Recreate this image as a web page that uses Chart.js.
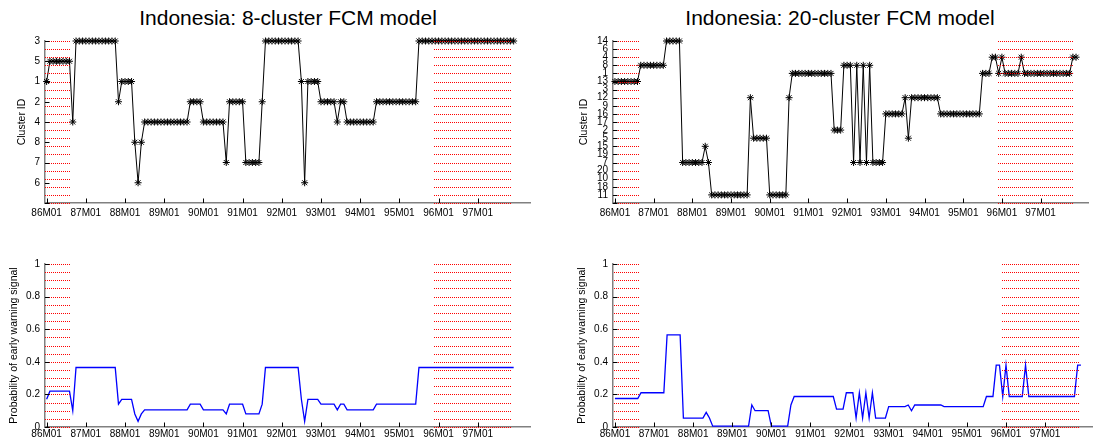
<!DOCTYPE html>
<html>
<head>
<meta charset="utf-8">
<script src="https://cdn.jsdelivr.net/npm/chart.js@4.4.1/dist/chart.umd.min.js"></script>
<style>
  body { margin: 0; background: #fff; width: 1093px; height: 443px; overflow: hidden; position: relative; font-family: Arial, "Liberation Sans", sans-serif; }
  canvas { position: absolute; }
  .ttl { position: absolute; top: 7px; font-size: 21px; line-height: 21px; white-space: nowrap; transform: translateX(-50%); color: #000; }
</style>
</head>
<body>
<div class="ttl" style="left:288px;">Indonesia: 8-cluster FCM model</div>
<div class="ttl" style="left:840px;">Indonesia: 20-cluster FCM model</div>
<canvas id="c8" width="545" height="225" style="left:0;top:0"></canvas>
<canvas id="p8" width="545" height="203" style="left:0;top:240px"></canvas>
<canvas id="c20" width="533" height="225" style="left:560px;top:0"></canvas>
<canvas id="p20" width="533" height="203" style="left:560px;top:240px"></canvas>
<script>
// months counted from 86M01
var xTicks = [0, 12, 24, 36, 48, 60, 72, 84, 96, 108, 120, 132];
var xTickLabels = ['86M01', '87M01', '88M01', '89M01', '90M01', '91M01',
                   '92M01', '93M01', '94M01', '95M01', '96M01', '97M01'];

// red dotted periods (start, end month)
var hatchPeriods = [[-0.4, 7.5], [118.7, 142.4]];

// cluster order on the y axis, top to bottom
var order8 = ['3', '5', '1', '2', '4', '8', '7', '6', ''];
var order20 = ['14', '6', '4', '8', '1', '13', '3', '12', '9', '16', '17',
               '2', '5', '15', '19', '7', '20', '10', '18', '11', ''];

// 8-cluster model, one value per month
var cluster8 = [
  1,5,5,5,5,5,5,5,4,3,3,3,
  3,3,3,3,3,3,3,3,3,3,2,1,
  1,1,1,8,6,8,4,4,4,4,4,4,
  4,4,4,4,4,4,4,4,2,2,2,2,
  4,4,4,4,4,4,4,7,2,2,2,2,
  2,7,7,7,7,7,2,3,3,3,3,3,
  3,3,3,3,3,3,1,6,1,1,1,1,
  2,2,2,2,2,4,2,2,4,4,4,4,
  4,4,4,4,4,2,2,2,2,2,2,2,
  2,2,2,2,2,2,3,3,3,3,3,3,
  3,3,3,3,3,3,3,3,3,3,3,3,
  3,3,3,3,3,3,3,3,3,3,3,3
];
var prob8 = [
  .17,.22,.22,.22,.22,.22,.22,.22,.1,.365,.365,.365,
  .365,.365,.365,.365,.365,.365,.365,.365,.365,.365,.14,.17,
  .17,.17,.17,.08,.035,.08,.105,.105,.105,.105,.105,.105,
  .105,.105,.105,.105,.105,.105,.105,.105,.14,.14,.14,.14,
  .105,.105,.105,.105,.105,.105,.105,.08,.14,.14,.14,.14,
  .14,.08,.08,.08,.08,.08,.14,.365,.365,.365,.365,.365,
  .365,.365,.365,.365,.365,.365,.17,.035,.17,.17,.17,.17,
  .14,.14,.14,.14,.14,.105,.14,.14,.105,.105,.105,.105,
  .105,.105,.105,.105,.105,.14,.14,.14,.14,.14,.14,.14,
  .14,.14,.14,.14,.14,.14,.365,.365,.365,.365,.365,.365,
  .365,.365,.365,.365,.365,.365,.365,.365,.365,.365,.365,.365,
  .365,.365,.365,.365,.365,.365,.365,.365,.365,.365,.365,.365
];

// 20-cluster model
var cluster20 = [
  13,13,13,13,13,13,13,13,8,8,8,8,
  8,8,8,8,14,14,14,14,14,7,7,7,
  7,7,7,7,15,7,11,11,11,11,11,11,
  11,11,11,11,11,11,12,5,5,5,5,5,
  11,11,11,11,11,11,12,1,1,1,1,1,
  1,1,1,1,1,1,1,1,2,2,2,8,
  8,8,7,8,7,8,7,8,7,7,7,7,
  16,16,16,16,16,16,12,5,12,12,12,12,
  12,12,12,12,12,16,16,16,16,16,16,16,
  16,16,16,16,16,16,1,1,1,4,4,1,
  4,1,1,1,1,1,4,1,1,1,1,1,
  1,1,1,1,1,1,1,1,1,1,4,4
];
var prob20 = [
  .175,.175,.175,.175,.175,.175,.175,.175,.21,.21,.21,.21,
  .21,.21,.21,.21,.565,.565,.565,.565,.565,.055,.055,.055,
  .055,.055,.055,.055,.09,.055,.005,.005,.005,.005,.005,.005,
  .005,.005,.005,.005,.005,.005,.135,.1,.1,.1,.1,.1,
  .005,.005,.005,.005,.005,.005,.135,.187,.187,.187,.187,.187,
  .187,.187,.187,.187,.187,.187,.187,.187,.11,.11,.11,.21,
  .21,.21,.055,.21,.055,.21,.055,.21,.055,.055,.055,.055,
  .125,.125,.125,.125,.125,.125,.135,.1,.135,.135,.135,.135,
  .135,.135,.135,.135,.135,.125,.125,.125,.125,.125,.125,.125,
  .125,.125,.125,.125,.125,.125,.187,.187,.187,.38,.38,.187,
  .38,.187,.187,.187,.187,.187,.38,.187,.187,.187,.187,.187,
  .187,.187,.187,.187,.187,.187,.187,.187,.187,.187,.38,.38
];

Chart.defaults.font.family = 'Arial, "Liberation Sans", sans-serif';
Chart.defaults.font.size = 10;
Chart.defaults.color = '#000';

// red dotted horizontal lines over the marked periods (one pixel dots)
var hatchPlugin = {
  id: 'hatch',
  afterDatasetsDraw: function(chart, args, opts) {
    var ctx = chart.ctx, x = chart.scales.x, y = chart.scales.y;
    ctx.save();
    ctx.fillStyle = 'rgb(255,0,0)';
    opts.periods.forEach(function(p) {
      var x0 = Math.round(x.getPixelForValue(p[0])), x1 = Math.round(x.getPixelForValue(p[1]));
      for (var k = 0; k <= opts.rows; k++) {
        var py = Math.round(y.getPixelForDecimal(k / opts.rows));
        for (var px = x0; px < x1; px += 2) {
          ctx.fillRect(px, py, 1, 1);
        }
      }
    });
    ctx.restore();
  }
};

// matlab style ticks pointing into the plot
var inTicksPlugin = {
  id: 'inTicks',
  afterDraw: function(chart) {
    var ctx = chart.ctx, x = chart.scales.x, y = chart.scales.y;
    ctx.save();
    ctx.strokeStyle = '#000';
    ctx.lineWidth = 1;
    ctx.beginPath();
    x.ticks.forEach(function(t, i) {
      var px = Math.round(x.getPixelForTick(i)) + 0.5;
      ctx.moveTo(px, x.top);
      ctx.lineTo(px, x.top - 4.5);
    });
    y.ticks.forEach(function(t, i) {
      var py = Math.round(y.getPixelForTick(i)) + 0.5;
      ctx.moveTo(y.right, py);
      ctx.lineTo(y.right + 4.5, py);
    });
    ctx.stroke();
    ctx.restore();
  }
};

function xAxis(min, max, height, pad) {
  return {
    type: 'linear',
    min: min,
    max: max,
    grid: { display: false, drawTicks: false },
    border: { display: true, color: '#808080', width: 1.5 },
    ticks: {
      autoSkip: false, maxRotation: 0, padding: pad,
      callback: function(v, i) { return xTickLabels[i]; }
    },
    afterBuildTicks: function(s) {
      s.ticks = xTicks.map(function(v) { return { value: v }; });
    },
    afterFit: function(s) { s.height = height; }
  };
}

function yTitle(text, padTop) {
  return { display: true, text: text, font: { size: 10.5 }, padding: { top: padTop, bottom: 0 } };
}

function makeChart(id, datasets, scales, padding) {
  return new Chart(document.getElementById(id).getContext('2d'), {
    type: 'line',
    data: { datasets: datasets },
    options: {
      responsive: false,
      animation: false,
      devicePixelRatio: 1,
      events: [],
      layout: { padding: padding },
      elements: { line: { tension: 0 } },
      plugins: {
        legend: { display: false },
        tooltip: { enabled: false },
        hatch: { periods: hatchPeriods, rows: 20 }
      },
      scales: scales
    },
    plugins: [hatchPlugin, inTicksPlugin]
  });
}

function clusterSet(values) {
  return {
    data: values.map(function(c, i) { return { x: i, y: String(c) }; }),
    borderColor: '#000',
    borderWidth: 1,
    pointStyle: 'star',
    pointRadius: 3.5,
    pointBorderColor: '#000',
    pointBorderWidth: 1,
    clip: false
  };
}

function probSet(values) {
  return {
    data: values.map(function(p, i) { return { x: i, y: p }; }),
    borderColor: '#0000ff',
    borderWidth: 1.3,
    pointRadius: 0,
    clip: false
  };
}

function clusterAxis(labels, width, padTop) {
  return {
    type: 'category',
    labels: labels,
    grid: { display: false, drawTicks: false },
    border: { display: true, color: '#808080', width: 1.5 },
    ticks: { autoSkip: false, padding: 5 },
    title: yTitle('Cluster ID', padTop),
    afterFit: function(s) { s.width = width; }
  };
}

function probAxis(width, padTop) {
  return {
    type: 'linear',
    min: 0,
    max: 1,
    grid: { display: false, drawTicks: false },
    border: { display: true, color: '#808080', width: 1.5 },
    ticks: {
      stepSize: 0.2, padding: 5,
      callback: function(v) { return String(Number(v.toFixed(1))); }
    },
    title: yTitle('Probability of early warning signal', padTop),
    afterFit: function(s) { s.width = width; }
  };
}

makeChart('c8', [clusterSet(cluster8)],
  { x: xAxis(-0.5, 148, 22, 4), y: clusterAxis(order8, 45, 16) },
  { top: 41, right: 15, left: 0, bottom: 0 });

makeChart('p8', [probSet(prob8)],
  { x: xAxis(-0.5, 148, 16, 1), y: probAxis(45, 8) },
  { top: 24, right: 15, left: 0, bottom: 0 });

makeChart('c20', [clusterSet(cluster20)],
  { x: xAxis(-0.6, 146.7, 22, 4), y: clusterAxis(order20, 53, 18) },
  { top: 41, right: 0, left: 0, bottom: 0 });

makeChart('p20', [probSet(prob20)],
  { x: xAxis(-0.6, 146.7, 16, 1), y: probAxis(53, 16) },
  { top: 24, right: 0, left: 0, bottom: 0 });
</script>
</body>
</html>
